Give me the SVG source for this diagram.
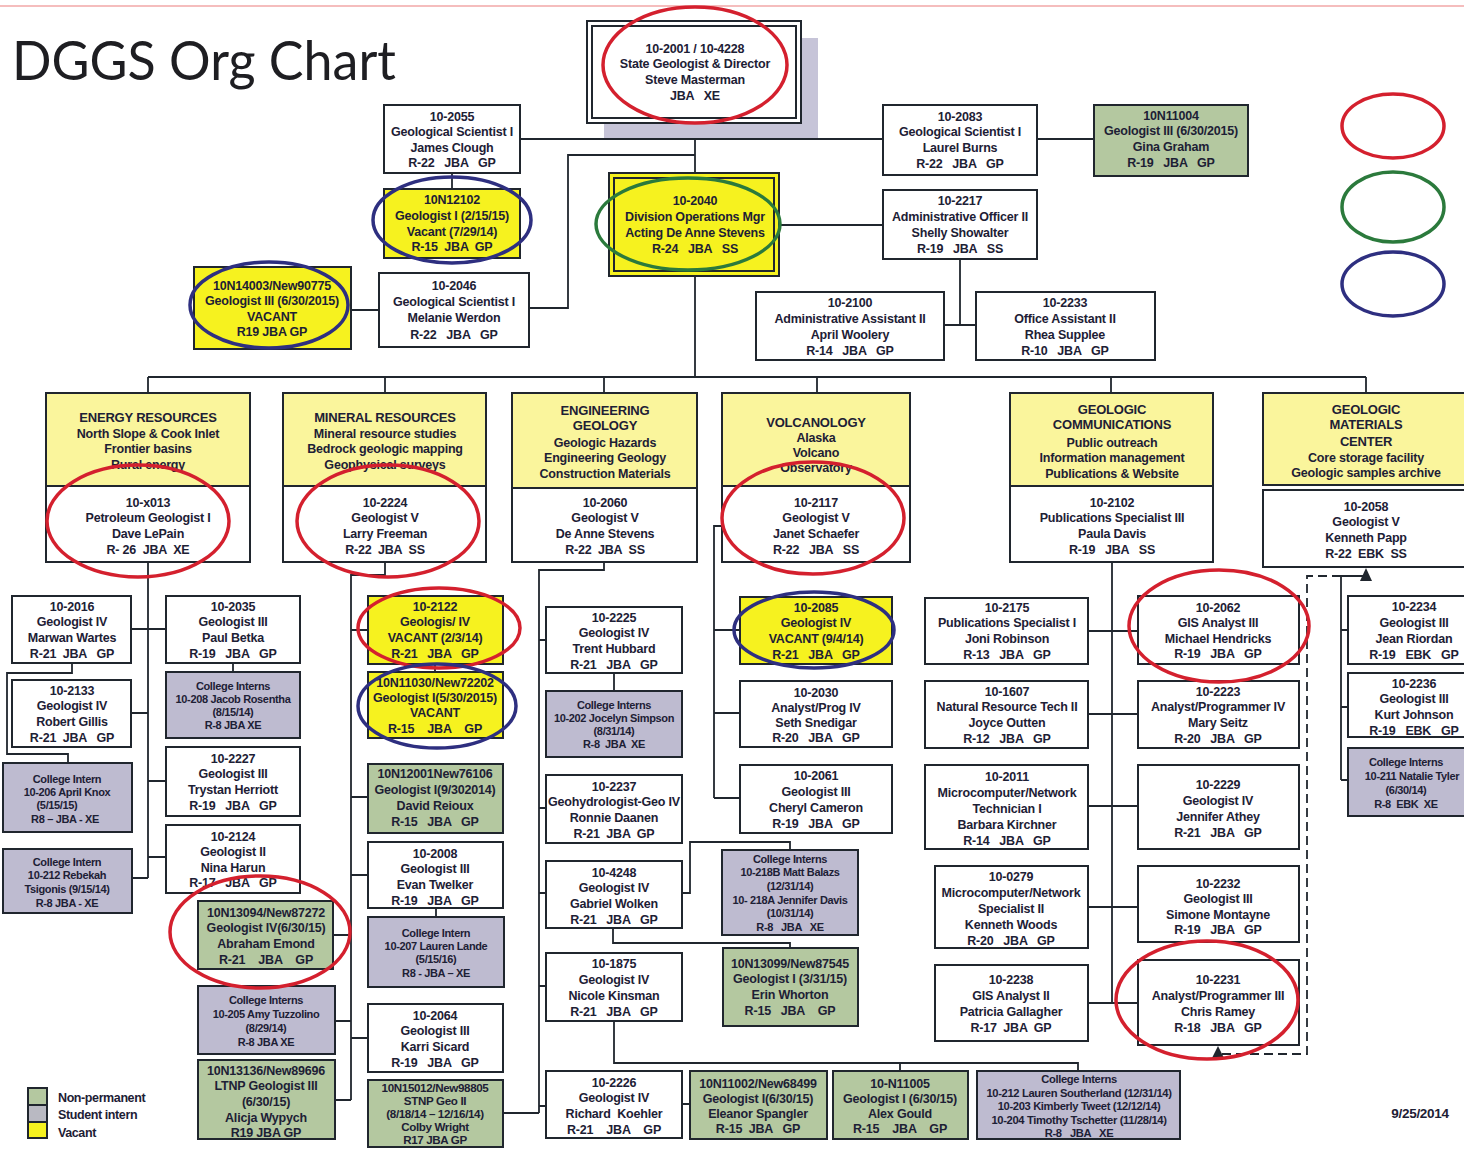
<svg xmlns="http://www.w3.org/2000/svg" width="1464" height="1151" viewBox="0 0 1464 1151">
<style>
.b{fill:#fff;stroke:#20262e;stroke-width:2}
.y{fill:#f6f21f;stroke:#20262e;stroke-width:2}
.g{fill:#b4c8a0;stroke:#20262e;stroke-width:2}
.i{fill:#bebbd0;stroke:#20262e;stroke-width:2}
.hd{fill:#faf59c;stroke:#20262e;stroke-width:2}
.dbl{fill:none;stroke:#20262e;stroke-width:2}
text{font-family:"Liberation Sans",Arial,sans-serif;font-weight:bold;fill:#1d2035;white-space:pre}
.t{font-size:12.5px;letter-spacing:-0.2px;text-anchor:middle}
.h{font-size:13px;letter-spacing:-0.2px;text-anchor:middle}
.s{font-size:11px;letter-spacing:-0.35px;text-anchor:middle}
.xs{font-size:11.2px;letter-spacing:-0.35px;text-anchor:middle}
.lg{font-size:12.5px;letter-spacing:-0.4px}
.c{fill:none;stroke:#20262e;stroke-width:1.8}
.d{fill:none;stroke:#20262e;stroke-width:1.8;stroke-dasharray:9 5}
.er{fill:none;stroke:#d4202e;stroke-width:3.5}
.eg{fill:none;stroke:#2b7a3c;stroke-width:3.5}
.eb{fill:none;stroke:#2e2f80;stroke-width:3.5}
</style>
<rect x="0" y="0" width="1464" height="1151" fill="#fff"/>
<line x1="0" y1="6" x2="1464" y2="6" stroke="#f2a7a7" stroke-width="1.5"/>
<text x="12" y="80" style="font-family:Lato,'Open Sans',sans-serif;font-weight:normal;font-size:54px;fill:#1e1e22" textLength="384" lengthAdjust="spacingAndGlyphs">DGGS Org Chart</text>

<g id="connectors">
<path class="c" d="M695 123V173M520 139H883M1037 139H1094M452 173V189M695 155H568V308H529M351 310H379M779 225H883M960 259V325M944 325H976M695 276V377M148 377H1366M148 377V393M385 377V393M604 377V393M817 377V393M1111 377V393M1366 377V393"/>
<path class="c" d="M148 562V878M131 629H166M131 713H148M148 781H166M148 857H166M132 878H148M72 663V673H7V754H68V763M233 663V672"/>
<path class="c" d="M385 562V575H351V1100M351 630H368M351 797H368M351 875H368M351 1038H368M333 935H351M335 1021H351M335 1100H351M435 664V672M436 908V917"/>
<path class="c" d="M604 562V570H539V1113M539 640H546M539 808H546M539 893H546M539 986H546M539 1106H546M503 1113H539M614 673V691M682 893H690V842H790V850M613 928V943H790V948M614 1021V1063H1078V1071M900 1063V1071M682 1104H690"/>
<path class="c" d="M722 526H714V798M714 630H740M714 713H740M714 798H740"/>
<path class="c" d="M1112 562V1003M1088 631H1138M1088 714H1138M1088 806H1138M1088 907H1138M1088 1003H1138"/>
<path class="c" d="M1366 580V576H1341V780M1341 630H1348M1341 707H1348M1341 780H1348"/>
<path class="d" d="M1341 576H1307V1054H1220"/>
<polygon points="1366,568 1360,581 1372,581" fill="#20262e"/>
<polygon points="1218,1046 1212,1058 1224,1058" fill="#20262e"/>
</g>

<g id="director">
<rect x="604" y="38" width="214" height="100" fill="#c6c4d8"/>
<rect class="b" x="587" y="21" width="214" height="102"/>
<rect class="dbl" x="592" y="26" width="204" height="92"/>
<text class="t" x="695" y="52.5"><tspan x="695">10-2001 / 10-4228</tspan><tspan x="695" dy="15.7">State Geologist &amp; Director</tspan><tspan x="695" dy="15.7">Steve Masterman</tspan><tspan x="695" dy="15.7">JBA   XE</tspan></text>
</g>
<g id="n2055"><rect class="b" x="384" y="105" width="136" height="68"/><text class="t" x="452" y="120.5"><tspan x="452">10-2055</tspan><tspan x="452" dy="15.6">Geological Scientist I</tspan><tspan x="452" dy="15.6">James Clough</tspan><tspan x="452" dy="15.6">R-22   JBA   GP</tspan></text></g>
<g id="n12102"><rect class="y" x="384" y="189" width="136" height="69"/><text class="t" x="452" y="203.5"><tspan x="452">10N12102</tspan><tspan x="452" dy="16">Geologist I (2/15/15)</tspan><tspan x="452" dy="16">Vacant (7/29/14)</tspan><tspan x="452" dy="15">R-15  JBA  GP</tspan></text></g>
<g id="n14003"><rect class="y" x="194" y="267" width="157" height="82"/><text class="t" x="272" y="289.5"><tspan x="272">10N14003/New90775</tspan><tspan x="272" dy="15.5">Geologist III (6/30/2015)</tspan><tspan x="272" dy="15.5">VACANT</tspan><tspan x="272" dy="15.5">R19 JBA GP</tspan></text></g>
<g id="n2046"><rect class="b" x="379" y="273" width="150" height="74"/><text class="t" x="454" y="289.5"><tspan x="454">10-2046</tspan><tspan x="454" dy="16.5">Geological Scientist I</tspan><tspan x="454" dy="16">Melanie Werdon</tspan><tspan x="454" dy="17">R-22   JBA   GP</tspan></text></g>
<g id="n2040"><rect class="y" x="609" y="173" width="170" height="103"/><rect class="dbl" x="614" y="178" width="160" height="93"/><text class="t" x="695" y="204.5"><tspan x="695">10-2040</tspan><tspan x="695" dy="16">Division Operations Mgr</tspan><tspan x="695" dy="16">Acting De Anne Stevens</tspan><tspan x="695" dy="16">R-24   JBA   SS</tspan></text></g>
<g id="n2083"><rect class="b" x="883" y="105" width="154" height="70"/><text class="t" x="960" y="120.5"><tspan x="960">10-2083</tspan><tspan x="960" dy="15.7">Geological Scientist I</tspan><tspan x="960" dy="15.7">Laurel Burns</tspan><tspan x="960" dy="15.7">R-22   JBA   GP</tspan></text></g>
<g id="n11004"><rect class="g" x="1094" y="105" width="154" height="71"/><text class="t" x="1171" y="119.5"><tspan x="1171">10N11004</tspan><tspan x="1171" dy="15.7">Geologist III (6/30/2015)</tspan><tspan x="1171" dy="15.7">Gina Graham</tspan><tspan x="1171" dy="15.7">R-19   JBA   GP</tspan></text></g>
<g id="n2217"><rect class="b" x="883" y="190" width="154" height="69"/><text class="t" x="960" y="204.5"><tspan x="960">10-2217</tspan><tspan x="960" dy="16">Administrative Officer II</tspan><tspan x="960" dy="16">Shelly Showalter</tspan><tspan x="960" dy="16">R-19   JBA   SS</tspan></text></g>
<g id="n2100"><rect class="b" x="756" y="292" width="188" height="68"/><text class="t" x="850" y="306.5"><tspan x="850">10-2100</tspan><tspan x="850" dy="16">Administrative Assistant II</tspan><tspan x="850" dy="16">April Woolery</tspan><tspan x="850" dy="16">R-14   JBA   GP</tspan></text></g>
<g id="n2233"><rect class="b" x="976" y="292" width="179" height="68"/><text class="t" x="1065" y="306.5"><tspan x="1065">10-2233</tspan><tspan x="1065" dy="16">Office Assistant II</tspan><tspan x="1065" dy="16">Rhea Supplee</tspan><tspan x="1065" dy="16">R-10   JBA   GP</tspan></text></g>

<g id="energy"><rect class="hd" x="46" y="393" width="204" height="93"/><rect class="b" x="46" y="486" width="204" height="76"/>
<text class="h" x="148" y="421.5">ENERGY RESOURCES</text>
<text class="t" x="148" y="437.5"><tspan x="148">North Slope &amp; Cook Inlet</tspan><tspan x="148" dy="15.5">Frontier basins</tspan><tspan x="148" dy="15.5">Rural energy</tspan></text>
<text class="t" x="148" y="506.5"><tspan x="148">10-x013</tspan><tspan x="148" dy="15.7">Petroleum Geologist I</tspan><tspan x="148" dy="15.7">Dave LePain</tspan><tspan x="148" dy="15.7">R- 26  JBA  XE</tspan></text></g>
<g id="mineral"><rect class="hd" x="283" y="393" width="203" height="93"/><rect class="b" x="283" y="486" width="203" height="76"/>
<text class="h" x="385" y="421.5">MINERAL RESOURCES</text>
<text class="t" x="385" y="437.5"><tspan x="385">Mineral resource studies</tspan><tspan x="385" dy="15.5">Bedrock geologic mapping</tspan><tspan x="385" dy="15.5">Geophysical surveys</tspan></text>
<text class="t" x="385" y="506.5"><tspan x="385">10-2224</tspan><tspan x="385" dy="15.7">Geologist V</tspan><tspan x="385" dy="15.7">Larry Freeman</tspan><tspan x="385" dy="15.7">R-22  JBA  SS</tspan></text></g>
<g id="engineering"><rect class="hd" x="512" y="393" width="185" height="95"/><rect class="b" x="512" y="488" width="185" height="74"/>
<text class="h" x="605" y="414.5"><tspan x="605">ENGINEERING</tspan><tspan x="605" dy="15.8">GEOLOGY</tspan></text>
<text class="t" x="605" y="446.5"><tspan x="605">Geologic Hazards</tspan><tspan x="605" dy="15.8">Engineering Geology</tspan><tspan x="605" dy="15.8">Construction Materials</tspan></text>
<text class="t" x="605" y="506.5"><tspan x="605">10-2060</tspan><tspan x="605" dy="15.7">Geologist V</tspan><tspan x="605" dy="15.7">De Anne Stevens</tspan><tspan x="605" dy="15.7">R-22  JBA  SS</tspan></text></g>
<g id="volcanology"><rect class="hd" x="722" y="393" width="188" height="93"/><rect class="b" x="722" y="486" width="188" height="76"/>
<text class="h" x="816" y="426.5">VOLCANOLOGY</text>
<text class="t" x="816" y="441.5"><tspan x="816">Alaska</tspan><tspan x="816" dy="15">Volcano</tspan><tspan x="816" dy="15">Observatory</tspan></text>
<text class="t" x="816" y="506.5"><tspan x="816">10-2117</tspan><tspan x="816" dy="15.7">Geologist V</tspan><tspan x="816" dy="15.7">Janet Schaefer</tspan><tspan x="816" dy="15.7">R-22   JBA   SS</tspan></text></g>
<g id="geocomm"><rect class="hd" x="1010" y="393" width="203" height="93"/><rect class="b" x="1010" y="486" width="203" height="76"/>
<text class="h" x="1112" y="413.5"><tspan x="1112">GEOLOGIC</tspan><tspan x="1112" dy="15.8">COMMUNICATIONS</tspan></text>
<text class="t" x="1112" y="446.5"><tspan x="1112">Public outreach</tspan><tspan x="1112" dy="15.5">Information management</tspan><tspan x="1112" dy="15.5">Publications &amp; Website</tspan></text>
<text class="t" x="1112" y="506.5"><tspan x="1112">10-2102</tspan><tspan x="1112" dy="15.7">Publications Specialist III</tspan><tspan x="1112" dy="15.7">Paula Davis</tspan><tspan x="1112" dy="15.7">R-19   JBA   SS</tspan></text></g>
<g id="gmc"><rect class="hd" x="1263" y="393" width="205" height="92"/><rect class="b" x="1263" y="490" width="205" height="77"/>
<text class="h" x="1366" y="413.5"><tspan x="1366">GEOLOGIC</tspan><tspan x="1366" dy="15.8">MATERIALS</tspan><tspan x="1366" dy="16.5">CENTER</tspan></text>
<text class="t" x="1366" y="461.5"><tspan x="1366">Core storage facility</tspan><tspan x="1366" dy="15.5">Geologic samples archive</tspan></text>
<text class="t" x="1366" y="510.5"><tspan x="1366">10-2058</tspan><tspan x="1366" dy="15.7">Geologist V</tspan><tspan x="1366" dy="15.7">Kenneth Papp</tspan><tspan x="1366" dy="15.7">R-22  EBK  SS</tspan></text></g>

<g id="n2016"><rect class="b" x="12" y="596" width="119" height="67"/><text class="t" x="72" y="610.5"><tspan x="72">10-2016</tspan><tspan x="72" dy="15.7">Geologist IV</tspan><tspan x="72" dy="15.7">Marwan Wartes</tspan><tspan x="72" dy="15.7">R-21  JBA   GP</tspan></text></g>
<g id="n2133"><rect class="b" x="12" y="680" width="119" height="67"/><text class="t" x="72" y="694.5"><tspan x="72">10-2133</tspan><tspan x="72" dy="15.7">Geologist IV</tspan><tspan x="72" dy="15.7">Robert Gillis</tspan><tspan x="72" dy="15.7">R-21  JBA   GP</tspan></text></g>
<g id="ci206"><rect class="i" x="3" y="763" width="129" height="69"/><text class="s" x="67" y="782.8"><tspan x="67">College Intern</tspan><tspan x="67" dy="13.3">10-206 April Knox</tspan><tspan x="57" dy="13.3">(5/15/15)</tspan><tspan x="65" dy="13.3">R8 – JBA - XE</tspan></text></g>
<g id="ci212"><rect class="i" x="3" y="849" width="129" height="64"/><text class="s" x="67" y="865.8"><tspan x="67">College Intern</tspan><tspan x="67" dy="13.6">10-212 Rebekah</tspan><tspan x="67" dy="13.6">Tsigonis (9/15/14)</tspan><tspan x="67" dy="13.6">R-8 JBA - XE</tspan></text></g>
<g id="n2035"><rect class="b" x="166" y="596" width="134" height="67"/><text class="t" x="233" y="610.5"><tspan x="233">10-2035</tspan><tspan x="233" dy="15.7">Geologist III</tspan><tspan x="233" dy="15.7">Paul Betka</tspan><tspan x="233" dy="15.7">R-19   JBA   GP</tspan></text></g>
<g id="ci208"><rect class="i" x="166" y="672" width="134" height="66"/><text class="s" x="233" y="689.8"><tspan x="233">College Interns</tspan><tspan x="233" dy="13">10-208 Jacob Rosentha</tspan><tspan x="233" dy="13">(8/15/14)</tspan><tspan x="233" dy="13">R-8 JBA XE</tspan></text></g>
<g id="n2227"><rect class="b" x="166" y="747" width="134" height="69"/><text class="t" x="233" y="762.5"><tspan x="233">10-2227</tspan><tspan x="233" dy="15.7">Geologist III</tspan><tspan x="233" dy="15.7">Trystan Herriott</tspan><tspan x="233" dy="15.7">R-19   JBA   GP</tspan></text></g>
<g id="n2124"><rect class="b" x="166" y="825" width="134" height="68"/><text class="t" x="233" y="840.5"><tspan x="233">10-2124</tspan><tspan x="233" dy="15.5">Geologist II</tspan><tspan x="233" dy="15.5">Nina Harun</tspan><tspan x="233" dy="15.5">R-17   JBA   GP</tspan></text></g>
<g id="n13094"><rect class="g" x="198" y="901" width="135" height="68"/><text class="t" x="266" y="916.5"><tspan x="266">10N13094/New87272</tspan><tspan x="266" dy="15.7">Geologist IV(6/30/15)</tspan><tspan x="266" dy="15.7">Abraham Emond</tspan><tspan x="266" dy="15.7">R-21    JBA    GP</tspan></text></g>
<g id="ci205"><rect class="i" x="198" y="986" width="137" height="68"/><text class="s" x="266" y="1003.8"><tspan x="266">College Interns</tspan><tspan x="266" dy="14">10-205 Amy Tuzzolino</tspan><tspan x="266" dy="14">(8/29/14)</tspan><tspan x="266" dy="14">R-8 JBA XE</tspan></text></g>
<g id="n13136"><rect class="g" x="198" y="1060" width="137" height="79"/><text class="t" x="266" y="1074.5"><tspan x="266">10N13136/New89696</tspan><tspan x="266" dy="15.7">LTNP Geologist III</tspan><tspan x="266" dy="15.7">(6/30/15)</tspan><tspan x="266" dy="15.7">Alicja Wypych</tspan><tspan x="266" dy="15.7">R19 JBA GP</tspan></text></g>

<g id="n2122"><rect class="y" x="368" y="596" width="135" height="68"/><text class="t" x="435" y="610.5"><tspan x="435">10-2122</tspan><tspan x="435" dy="15.7">Geologis/ IV</tspan><tspan x="435" dy="15.7">VACANT (2/3/14)</tspan><tspan x="435" dy="15.7">R-21   JBA   GP</tspan></text></g>
<g id="n11030"><rect class="y" x="368" y="672" width="135" height="66"/><text class="t" x="435" y="686.5"><tspan x="435">10N11030/New72202</tspan><tspan x="435" dy="15.4">Geologist I(5/30/2015)</tspan><tspan x="435" dy="15.4">VACANT</tspan><tspan x="435" dy="15.4">R-15    JBA    GP</tspan></text></g>
<g id="n12001"><rect class="g" x="368" y="764" width="135" height="69"/><text class="t" x="435" y="777.5"><tspan x="435">10N12001New76106</tspan><tspan x="435" dy="16.5">Geologist I(9/302014)</tspan><tspan x="435" dy="16">David Reioux</tspan><tspan x="435" dy="16">R-15   JBA   GP</tspan></text></g>
<g id="n2008"><rect class="b" x="368" y="842" width="135" height="66"/><text class="t" x="435" y="857.5"><tspan x="435">10-2008</tspan><tspan x="435" dy="15.8">Geologist III</tspan><tspan x="435" dy="15.8">Evan Twelker</tspan><tspan x="435" dy="15.8">R-19   JBA   GP</tspan></text></g>
<g id="ci207"><rect class="i" x="368" y="917" width="136" height="70"/><text class="s" x="436" y="936.8"><tspan x="436">College Intern</tspan><tspan x="436" dy="13.3">10-207 Lauren Lande</tspan><tspan x="436" dy="13.3">(5/15/16)</tspan><tspan x="436" dy="13.3">R8 - JBA – XE</tspan></text></g>
<g id="n2064"><rect class="b" x="368" y="1004" width="135" height="68"/><text class="t" x="435" y="1019.5"><tspan x="435">10-2064</tspan><tspan x="435" dy="15.7">Geologist III</tspan><tspan x="435" dy="15.7">Karri Sicard</tspan><tspan x="435" dy="15.7">R-19   JBA   GP</tspan></text></g>
<g id="n15012"><rect class="g" x="368" y="1080" width="135" height="67"/><text class="s" x="435" y="1092" style="font-size:11.6px"><tspan x="435">10N15012/New98805</tspan><tspan x="435" dy="12.9">STNP Geo II</tspan><tspan x="435" dy="12.9">(8/18/14 – 12/16/14)</tspan><tspan x="435" dy="12.9">Colby Wright</tspan><tspan x="435" dy="12.9">R17 JBA GP</tspan></text></g>

<g id="n2225"><rect class="b" x="546" y="607" width="136" height="66"/><text class="t" x="614" y="621.5"><tspan x="614">10-2225</tspan><tspan x="614" dy="15.7">Geologist IV</tspan><tspan x="614" dy="15.7">Trent Hubbard</tspan><tspan x="614" dy="15.7">R-21   JBA   GP</tspan></text></g>
<g id="ci202"><rect class="i" x="546" y="691" width="136" height="66"/><text class="s" x="614" y="708.8"><tspan x="614">College Interns</tspan><tspan x="614" dy="13">10-202 Jocelyn Simpson</tspan><tspan x="614" dy="13">(8/31/14)</tspan><tspan x="614" dy="13">R-8  JBA  XE</tspan></text></g>
<g id="n2237"><rect class="b" x="546" y="775" width="136" height="68"/><text class="t" x="614" y="790.5"><tspan x="614">10-2237</tspan><tspan x="614" dy="15.7">Geohydrologist-Geo IV</tspan><tspan x="614" dy="15.7">Ronnie Daanen</tspan><tspan x="614" dy="15.7">R-21  JBA  GP</tspan></text></g>
<g id="n4248"><rect class="b" x="546" y="861" width="136" height="67"/><text class="t" x="614" y="876.5"><tspan x="614">10-4248</tspan><tspan x="614" dy="15.7">Geologist IV</tspan><tspan x="614" dy="15.7">Gabriel Wolken</tspan><tspan x="614" dy="15.7">R-21   JBA   GP</tspan></text></g>
<g id="n1875"><rect class="b" x="546" y="953" width="136" height="68"/><text class="t" x="614" y="967.5"><tspan x="614">10-1875</tspan><tspan x="614" dy="16">Geologist IV</tspan><tspan x="614" dy="16">Nicole Kinsman</tspan><tspan x="614" dy="16">R-21   JBA   GP</tspan></text></g>
<g id="n2226"><rect class="b" x="546" y="1071" width="136" height="67"/><text class="t" x="614" y="1086.5"><tspan x="614">10-2226</tspan><tspan x="614" dy="15.7">Geologist IV</tspan><tspan x="614" dy="15.7">Richard  Koehler</tspan><tspan x="614" dy="15.7">R-21    JBA    GP</tspan></text></g>

<g id="n2085"><rect class="y" x="740" y="597" width="152" height="67"/><text class="t" x="816" y="611.5"><tspan x="816">10-2085</tspan><tspan x="816" dy="15.7">Geologist IV</tspan><tspan x="816" dy="15.7">VACANT (9/4/14)</tspan><tspan x="816" dy="15.7">R-21   JBA   GP</tspan></text></g>
<g id="n2030"><rect class="b" x="740" y="681" width="152" height="66"/><text class="t" x="816" y="696.5"><tspan x="816">10-2030</tspan><tspan x="816" dy="15.3">Analyst/Prog IV</tspan><tspan x="816" dy="15.3">Seth Snedigar</tspan><tspan x="816" dy="15.3">R-20   JBA   GP</tspan></text></g>
<g id="n2061"><rect class="b" x="740" y="765" width="152" height="68"/><text class="t" x="816" y="779.5"><tspan x="816">10-2061</tspan><tspan x="816" dy="16">Geologist III</tspan><tspan x="816" dy="16">Cheryl Cameron</tspan><tspan x="816" dy="16">R-19   JBA   GP</tspan></text></g>
<g id="ci218"><rect class="i" x="722" y="850" width="136" height="85"/><text class="s" x="790" y="862.8"><tspan x="790">College Interns</tspan><tspan x="790" dy="13.6">10-218B Matt Balazs</tspan><tspan x="790" dy="13.6">(12/31/14)</tspan><tspan x="790" dy="13.6">10- 218A Jennifer Davis</tspan><tspan x="790" dy="13.6">(10/31/14)</tspan><tspan x="790" dy="13.6">R-8   JBA   XE</tspan></text></g>
<g id="n13099"><rect class="g" x="723" y="948" width="135" height="78"/><text class="t" x="790" y="967.5"><tspan x="790">10N13099/New87545</tspan><tspan x="790" dy="15.7">Geologist I (3/31/15)</tspan><tspan x="790" dy="15.7">Erin Whorton</tspan><tspan x="790" dy="15.7">R-15   JBA    GP</tspan></text></g>
<g id="n11002"><rect class="g" x="690" y="1071" width="137" height="68"/><text class="t" x="758" y="1087.5"><tspan x="758">10N11002/New68499</tspan><tspan x="758" dy="15">Geologist I(6/30/15)</tspan><tspan x="758" dy="15">Eleanor Spangler</tspan><tspan x="758" dy="15">R-15  JBA   GP</tspan></text></g>
<g id="n11005"><rect class="g" x="833" y="1071" width="135" height="68"/><text class="t" x="900" y="1087.5"><tspan x="900">10-N11005</tspan><tspan x="900" dy="15">Geologist I (6/30/15)</tspan><tspan x="900" dy="15">Alex Gould</tspan><tspan x="900" dy="15">R-15    JBA    GP</tspan></text></g>
<g id="ci212b"><rect class="i" x="977" y="1071" width="203" height="68"/><text class="xs" x="1079" y="1083"><tspan x="1079">College Interns</tspan><tspan x="1079" dy="13.5">10-212 Lauren Southerland (12/31/14)</tspan><tspan x="1079" dy="13.5">10-203 Kimberly Tweet (12/12/14)</tspan><tspan x="1079" dy="13.5">10-204 Timothy Tschetter (11/28/14)</tspan><tspan x="1079" dy="13.5">R-8   JBA   XE</tspan></text></g>

<g id="n2175"><rect class="b" x="925" y="598" width="163" height="66"/><text class="t" x="1007" y="611.5"><tspan x="1007">10-2175</tspan><tspan x="1007" dy="15.7">Publications Specialist I</tspan><tspan x="1007" dy="15.7">Joni Robinson</tspan><tspan x="1007" dy="15.7">R-13   JBA   GP</tspan></text></g>
<g id="n1607"><rect class="b" x="925" y="681" width="163" height="67"/><text class="t" x="1007" y="695.5"><tspan x="1007">10-1607</tspan><tspan x="1007" dy="15.7">Natural Resource Tech II</tspan><tspan x="1007" dy="15.7">Joyce Outten</tspan><tspan x="1007" dy="15.7">R-12   JBA   GP</tspan></text></g>
<g id="n2011"><rect class="b" x="925" y="765" width="163" height="84"/><text class="t" x="1007" y="780.5"><tspan x="1007">10-2011</tspan><tspan x="1007" dy="16">Microcomputer/Network</tspan><tspan x="1007" dy="16">Technician I</tspan><tspan x="1007" dy="16">Barbara Kirchner</tspan><tspan x="1007" dy="16">R-14   JBA   GP</tspan></text></g>
<g id="n0279"><rect class="b" x="935" y="866" width="153" height="82"/><text class="t" x="1011" y="880.5"><tspan x="1011">10-0279</tspan><tspan x="1011" dy="16">Microcomputer/Network</tspan><tspan x="1011" dy="16">Specialist II</tspan><tspan x="1011" dy="16">Kenneth Woods</tspan><tspan x="1011" dy="16">R-20   JBA   GP</tspan></text></g>
<g id="n2238"><rect class="b" x="935" y="965" width="153" height="76"/><text class="t" x="1011" y="983.5"><tspan x="1011">10-2238</tspan><tspan x="1011" dy="16.3">GIS Analyst II</tspan><tspan x="1011" dy="16.3">Patricia Gallagher</tspan><tspan x="1011" dy="16.3">R-17  JBA  GP</tspan></text></g>
<g id="n2062"><rect class="b" x="1138" y="596" width="161" height="68"/><text class="t" x="1218" y="611.5"><tspan x="1218">10-2062</tspan><tspan x="1218" dy="15.5">GIS Analyst III</tspan><tspan x="1218" dy="15.5">Michael Hendricks</tspan><tspan x="1218" dy="15.5">R-19   JBA   GP</tspan></text></g>
<g id="n2223"><rect class="b" x="1138" y="681" width="161" height="67"/><text class="t" x="1218" y="695.5"><tspan x="1218">10-2223</tspan><tspan x="1218" dy="15.7">Analyst/Programmer IV</tspan><tspan x="1218" dy="15.7">Mary Seitz</tspan><tspan x="1218" dy="15.7">R-20   JBA   GP</tspan></text></g>
<g id="n2229"><rect class="b" x="1138" y="765" width="161" height="84"/><text class="t" x="1218" y="788.5"><tspan x="1218">10-2229</tspan><tspan x="1218" dy="16">Geologist IV</tspan><tspan x="1218" dy="16">Jennifer Athey</tspan><tspan x="1218" dy="16">R-21   JBA   GP</tspan></text></g>
<g id="n2232"><rect class="b" x="1138" y="866" width="161" height="76"/><text class="t" x="1218" y="887.5"><tspan x="1218">10-2232</tspan><tspan x="1218" dy="15.5">Geologist III</tspan><tspan x="1218" dy="15.5">Simone Montayne</tspan><tspan x="1218" dy="15.5">R-19   JBA   GP</tspan></text></g>
<g id="n2231"><rect class="b" x="1138" y="960" width="161" height="85"/><text class="t" x="1218" y="983.5"><tspan x="1218">10-2231</tspan><tspan x="1218" dy="16.3">Analyst/Programmer III</tspan><tspan x="1218" dy="16.3">Chris Ramey</tspan><tspan x="1218" dy="16.3">R-18   JBA   GP</tspan></text></g>

<g id="n2234"><rect class="b" x="1348" y="596" width="130" height="68"/><text class="t" x="1414" y="610.5"><tspan x="1414">10-2234</tspan><tspan x="1414" dy="16.3">Geologist III</tspan><tspan x="1414" dy="16.3">Jean Riordan</tspan><tspan x="1414" dy="16.3">R-19   EBK   GP</tspan></text></g>
<g id="n2236"><rect class="b" x="1348" y="673" width="130" height="64"/><text class="t" x="1414" y="687.5"><tspan x="1414">10-2236</tspan><tspan x="1414" dy="15.7">Geologist III</tspan><tspan x="1414" dy="15.7">Kurt Johnson</tspan><tspan x="1414" dy="15.7">R-19   EBK   GP</tspan></text></g>
<g id="ci211"><rect class="i" x="1348" y="748" width="130" height="68"/><text class="s" x="1406" y="765.8"><tspan x="1406">College Interns</tspan><tspan x="1412" dy="14">10-211 Natalie Tyler</tspan><tspan x="1406" dy="14">(6/30/14)</tspan><tspan x="1406" dy="14">R-8  EBK  XE</tspan></text></g>

<g id="highlights">
<ellipse class="er" cx="695" cy="65" rx="92" ry="58"/>
<ellipse class="er" cx="138" cy="521" rx="91" ry="56"/>
<ellipse class="er" cx="388" cy="521" rx="91" ry="56"/>
<ellipse class="er" cx="813" cy="518" rx="91" ry="56"/>
<ellipse class="er" cx="439" cy="628" rx="81" ry="40"/>
<ellipse class="er" cx="260" cy="932" rx="90" ry="56"/>
<ellipse class="er" cx="1219" cy="626" rx="90" ry="56"/>
<ellipse class="er" cx="1207" cy="1000" rx="91" ry="59"/>
<ellipse class="eg" cx="688" cy="224" rx="92" ry="46"/>
<ellipse class="eb" cx="452" cy="220" rx="79" ry="43"/>
<ellipse class="eb" cx="269" cy="305" rx="79" ry="43"/>
<ellipse class="eb" cx="437" cy="706" rx="79" ry="42"/>
<ellipse class="eb" cx="814" cy="630" rx="80" ry="38"/>
<ellipse class="er" cx="1393" cy="126" rx="51" ry="32"/>
<ellipse class="eg" cx="1393" cy="207" rx="51" ry="35"/>
<ellipse class="eb" cx="1393" cy="284" rx="51" ry="32"/>
</g>

<g id="legend">
<rect class="g" x="28" y="1088" width="19" height="17"/>
<rect x="28" y="1105" width="19" height="17" fill="#b9b9c2" stroke="#20262e" stroke-width="2"/>
<rect class="y" x="28" y="1122" width="19" height="16"/>
<text class="lg" x="58" y="1101.5">Non-permanent</text>
<text class="lg" x="58" y="1118.5">Student intern</text>
<text class="lg" x="58" y="1136.5">Vacant</text>
</g>
<text x="1420" y="1118" style="font-size:13.5px;letter-spacing:-0.3px;text-anchor:middle">9/25/2014</text>
</svg>
